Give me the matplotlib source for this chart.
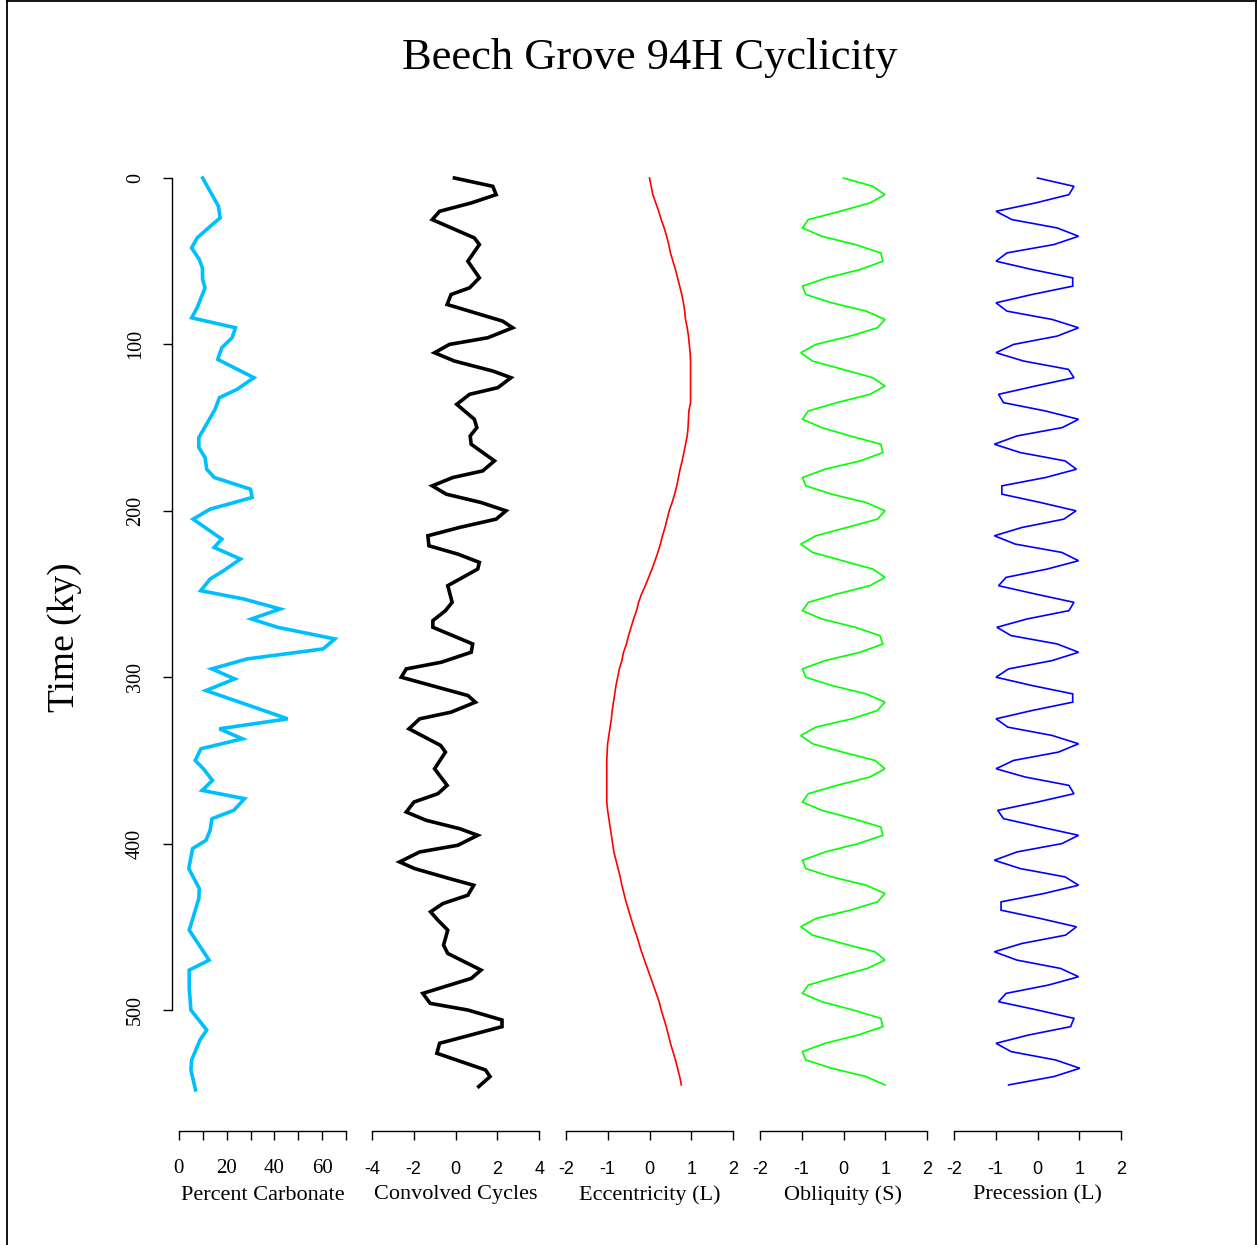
import numpy as np
import matplotlib
matplotlib.use("Agg")
import matplotlib.pyplot as plt
from matplotlib.lines import Line2D

# ---- data ----
carb_time = [0, 17, 24, 30, 36, 42, 49, 54, 61, 66,
             78, 84, 90, 96, 102, 109, 120, 127, 132, 139,
             156, 162, 168, 175, 180, 187, 192, 199, 205, 217,
             222, 229, 236, 241, 248, 253, 259, 265, 270, 277,
             283, 289, 295, 301, 308, 325, 331, 337, 343, 350,
             355, 362, 368, 373, 380, 385, 392, 398, 403, 415,
             427, 433, 452, 470, 476, 487, 500, 512, 518, 530,
             536, 548]
carb_pct = [10.0, 16.6, 17.3, 12.4, 7.7, 5.4, 8.6, 9.9, 10.0, 11.0,
            7.7, 5.4, 23.7, 22.3, 18.0, 16.3, 31.4, 24.4, 17.0, 15.2,
            8.4, 8.4, 11.0, 11.7, 14.9, 30.0, 30.7, 13.1, 6.0, 18.0,
            14.8, 25.8, 18.7, 13.1, 9.2, 27.2, 42.4, 30.4, 41.3, 65.2,
            60.3, 28.6, 13.8, 23.4, 11.4, 45.5, 17.0, 26.6, 9.3, 6.9,
            10.3, 14.1, 9.8, 27.5, 23.0, 13.9, 13.1, 11.4, 5.8, 4.2,
            8.6, 8.4, 4.4, 12.7, 4.4, 4.4, 5.1, 11.7, 8.9, 5.4,
            5.1, 7.0]

conv_time = [0, 5, 10, 15, 20, 25, 36, 40, 50, 60,
             66, 70, 76, 86, 90, 96, 100, 105, 110, 116,
             120, 126, 130, 136, 145, 150, 155, 160, 170, 176,
             180, 185, 190, 195, 200, 205, 210, 215, 221, 226,
             231, 235, 245, 255, 260, 266, 270, 280, 285, 291,
             295, 300, 311, 315, 321, 325, 331, 341, 345, 355,
             365, 370, 375, 381, 386, 391, 395, 401, 405, 411,
             415, 421, 425, 431, 436, 441, 446, 452, 461, 466,
             476, 481, 490, 496, 500, 506, 510, 520, 526, 536,
             540, 546]
conv_val = [-0.05, 1.78, 1.94, 0.75, -0.76, -1.11, 0.9, 1.14, 0.59, 1.14,
            0.67, -0.21, -0.4, 2.25, 2.73, 1.54, -0.29, -1.0, -0.05, 1.78,
            2.65, 2.02, 0.67, 0.06, 0.9, 1.02, 0.7, 0.75, 1.86, 1.3,
            -0.13, -1.11, -0.44, 1.22, 2.41, 1.94, 0.19, -1.32, -1.27, 0.11,
            1.14, 1.06, -0.37, -0.16, -0.48, -1.08, -1.08, 0.82, 0.75, -0.68,
            -2.35, -2.59, 0.59, 0.95, -0.21, -1.71, -2.22, -0.71, -0.48, -1.0,
            -0.4, -0.84, -1.98, -2.35, -1.4, 0.19, 1.06, 0.11, -1.71, -2.67,
            -1.95, -0.29, 0.87, 0.59, -0.6, -1.19, -0.84, -0.37, -0.57, -0.37,
            1.22, 0.75, -1.56, -1.21, 0.59, 2.22, 2.22, -0.76, -0.89, 1.43,
            1.65, 1.11]

orb_time = np.arange(0, 550, 5)

ecc = [0, 0.04, 0.08, 0.15, 0.22, 0.28, 0.35, 0.41, 0.46, 0.50,
       0.56, 0.62, 0.67, 0.72, 0.77, 0.81, 0.84, 0.86, 0.90, 0.93,
       0.95, 0.97, 0.98, 0.98, 0.98, 0.98, 0.98, 0.98, 0.94, 0.93,
       0.92, 0.90, 0.86, 0.82, 0.78, 0.73, 0.69, 0.65, 0.60, 0.54,
       0.47, 0.42, 0.37, 0.31, 0.26, 0.20, 0.13, 0.06, -0.02, -0.10,
       -0.19, -0.26, -0.31, -0.38, -0.44, -0.50, -0.55, -0.62, -0.66, -0.72,
       -0.76, -0.80, -0.83, -0.86, -0.89, -0.91, -0.94, -0.97, -1.00, -1.01,
       -1.02, -1.02, -1.02, -1.02, -1.02, -1.02, -1.00, -0.97, -0.94, -0.91,
       -0.88, -0.85, -0.80, -0.75, -0.70, -0.66, -0.61, -0.56, -0.50, -0.44,
       -0.38, -0.31, -0.25, -0.19, -0.12, -0.05, 0.02, 0.09, 0.16, 0.23,
       0.28, 0.34, 0.40, 0.45, 0.50, 0.56, 0.62, 0.67, 0.72, 0.76]

obl = [0, 0.70, 0.99, 0.63, -0.08, -0.84, -0.98, -0.52, 0.28, 0.89,
       0.94, 0.40, -0.40, -0.98, -0.90, -0.28, 0.54, 0.99, 0.81, 0.16,
       -0.66, -1.02, -0.74, -0.02, 0.70, 0.99, 0.63, -0.16, -0.84, -0.98,
       -0.52, 0.16, 0.89, 0.94, 0.40, -0.44, -0.98, -0.90, -0.28, 0.54,
       0.99, 0.81, 0.08, -0.66, -1.02, -0.74, -0.02, 0.70, 0.99, 0.63,
       -0.16, -0.84, -0.98, -0.52, 0.28, 0.87, 0.94, 0.40, -0.44, -0.98,
       -0.90, -0.28, 0.54, 0.99, 0.81, 0.20, -0.66, -1.02, -0.74, -0.02,
       0.75, 0.99, 0.63, -0.16, -0.84, -0.98, -0.52, 0.23, 0.89, 0.94,
       0.35, -0.44, -0.98, -0.90, -0.28, 0.54, 0.99, 0.81, 0.16, -0.66,
       -1.02, -0.74, -0.02, 0.75, 0.99, 0.57, -0.16, -0.84, -0.98, -0.52,
       0.23, 0.89, 0.94, 0.35, -0.44, -0.98, -0.90, -0.28, 0.54, 0.99]

prec = [0, 0.87, 0.75, -0.05, -0.99, -0.61, 0.47, 0.98, 0.39, -0.73,
        -0.99, -0.13, 0.84, 0.84, -0.13, -0.99, -0.73, 0.35, 0.98, 0.47,
        -0.57, -0.99, -0.33, 0.74, 0.87, -0.05, -0.93, -0.81, 0.19, 0.98,
        0.59, -0.49, -1.03, -0.41, 0.66, 0.93, 0.19, -0.85, -0.85, 0.07,
        0.92, 0.63, -0.37, -1.03, -0.53, 0.58, 0.98, 0.23, -0.75, -0.93,
        -0.05, 0.87, 0.75, -0.25, -0.97, -0.63, 0.47, 0.98, 0.35, -0.69,
        -0.99, -0.13, 0.84, 0.84, -0.13, -0.99, -0.71, 0.35, 0.98, 0.50,
        -0.57, -0.99, -0.29, 0.75, 0.87, 0.0, -0.95, -0.81, 0.07, 0.98,
        0.58, -0.49, -1.03, -0.41, 0.66, 0.98, 0.15, -0.87, -0.87, 0.07,
        0.93, 0.67, -0.37, -1.03, -0.49, 0.55, 0.98, 0.26, -0.75, -0.93,
        0.0, 0.87, 0.79, -0.21, -0.99, -0.63, 0.43, 1.01, 0.39, -0.69]

panel_labels = ["Percent Carbonate", "Convolved Cycles", "Eccentricity (L)",
                "Obliquity (S)", "Precession (L)"]
y_ticks = [0, 100, 200, 300, 400, 500]

SERIF = "Liberation Serif"
SANS = "Liberation Sans"

W, H = 1257, 1245
fig = plt.figure(figsize=(W / 100, H / 100), dpi=100)

# panel geometry in pixels (R style plot regions)
lefts = [172, 365, 559, 753, 947]
pw = 181
top_px, bot_px = 141.4, 1131
ah = bot_px - top_px

panels = [
    (carb_pct, carb_time, "#00BFFF", 2.6, (-2.8, 72.8), list(range(0, 80, 10)),
     ["0", "", "20", "", "40", "", "60", ""], SERIF, 15),
    (conv_val, conv_time, "black", 2.6, (-4.32, 4.32), [-4, -2, 0, 2, 4],
     ["-4", "-2", "0", "2", "4"], SANS, 13),
    (ecc, orb_time, "red", 1.2, (-2.16, 2.16), [-2, -1, 0, 1, 2],
     ["-2", "-1", "0", "1", "2"], SANS, 13),
    (obl, orb_time, "#00FF00", 1.2, (-2.16, 2.16), [-2, -1, 0, 1, 2],
     ["-2", "-1", "0", "1", "2"], SANS, 13),
    (prec, orb_time, "#0000FF", 1.2, (-2.16, 2.16), [-2, -1, 0, 1, 2],
     ["-2", "-1", "0", "1", "2"], SANS, 13),
]

for i, (xv, tv, col, lw, xl, xt, xtl, tfont, tsize) in enumerate(panels):
    ax = fig.add_axes([lefts[i] / W, 1 - bot_px / H, pw / W, ah / H])
    ax.plot(xv, tv, color=col, lw=lw, solid_joinstyle="miter")
    ax.set_xlim(*xl)
    ax.set_ylim(572.7, -22)
    for s in ["top", "right", "left"]:
        ax.spines[s].set_visible(False)
    ax.spines["bottom"].set_bounds(xt[0], xt[-1])
    ax.spines["bottom"].set_linewidth(1.0)
    ax.set_xticks(xt)
    ax.set_xticklabels(xtl, family=tfont, fontsize=tsize)
    ax.tick_params(axis="x", direction="out", length=6.5, width=1.0,
                   pad=15 if tfont == SANS else 14)
    ax.set_xlabel(panel_labels[i], family=SERIF, fontsize=16)
    ax.xaxis.label.set_va("center")
    ax.xaxis.set_label_coords(0.5, -(1195 - bot_px) / ah)
    if i == 0:
        ax.spines["left"].set_visible(True)
        ax.spines["left"].set_bounds(0, 500)
        ax.spines["left"].set_linewidth(1.0)
        ax.set_yticks(y_ticks)
        ax.set_yticklabels([str(v) for v in y_ticks], family=SERIF,
                           fontsize=14.5, rotation=90, va="center")
        ax.tick_params(axis="y", direction="out", length=6.5, width=1.0, pad=13)
    else:
        ax.set_yticks([])
    ax.patch.set_visible(False)

fig.text(650 / W, 1 - 58 / H, "Beech Grove 94H Cyclicity", family=SERIF,
         fontsize=32, ha="center", va="center")
fig.text(65 / W, 1 - 637 / H, "Time (ky)", family=SERIF, fontsize=27,
         rotation=90, ha="center", va="center")

# outer frame
for xs, ys in [([7, 7], [0, H]), ([7, 1256], [1, 1]), ([1256, 1256], [0, H])]:
    fig.add_artist(Line2D([x / W for x in xs], [1 - y / H for y in ys],
                          color="black", lw=1.3, transform=fig.transFigure))

fig.savefig("out.png", dpi=100)
